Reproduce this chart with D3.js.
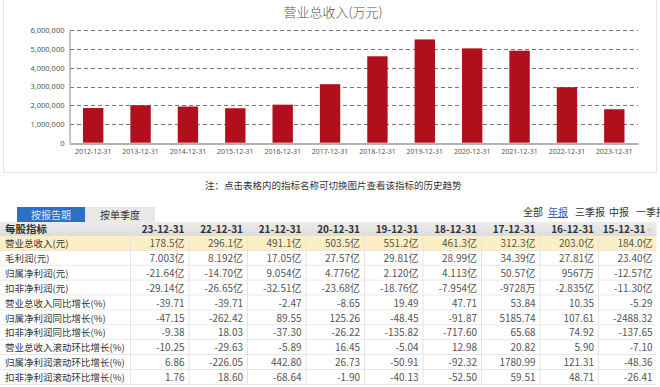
<!DOCTYPE html>
<html>
<head>
<meta charset="utf-8">
<script src="https://cdn.jsdelivr.net/npm/d3@7"></script>
<style>
  body { margin: 0; background: #fff; }
  svg { display: block; font-family: "Noto Sans CJK SC", "Noto Sans", sans-serif; }
</style>
</head>
<body>
<svg id="chart" width="660" height="387"></svg>
<script>
// chart data (万元)
const years = ['2012-12-31', '2013-12-31', '2014-12-31', '2015-12-31', '2016-12-31', '2017-12-31',
    '2018-12-31', '2019-12-31', '2020-12-31', '2021-12-31', '2022-12-31', '2023-12-31'];
const revenue = [1850000, 2000000, 1930000, 1840000, 2030000, 3123000,
    4613000, 5512000, 5035000, 4911000, 2961000, 1785000];
const yTicks = [0, 1000000, 2000000, 3000000, 4000000, 5000000, 6000000];

// table data
const periods = ['23-12-31', '22-12-31', '21-12-31', '20-12-31', '19-12-31', '18-12-31', '17-12-31', '16-12-31', '15-12-31'];
const rowLabels = ['营业总收入(元)', '毛利润(元)', '归属净利润(元)', '扣非净利润(元)', '营业总收入同比增长(%)',
    '归属净利润同比增长(%)', '扣非净利润同比增长(%)', '营业总收入滚动环比增长(%)', '归属净利润滚动环比增长(%)', '扣非净利润滚动环比增长(%)'];
const tableValues = [
    ['178.5亿', '296.1亿', '491.1亿', '503.5亿', '551.2亿', '461.3亿', '312.3亿', '203.0亿', '184.0亿'],
    ['7.003亿', '8.192亿', '17.05亿', '27.57亿', '29.81亿', '28.99亿', '34.39亿', '27.81亿', '23.40亿'],
    ['-21.64亿', '-14.70亿', '9.054亿', '4.776亿', '2.120亿', '4.113亿', '50.57亿', '9567万', '-12.57亿'],
    ['-29.14亿', '-26.65亿', '-32.51亿', '-23.68亿', '-18.76亿', '-7.954亿', '-9728万', '-2.835亿', '-11.30亿'],
    ['-39.71', '-39.71', '-2.47', '-8.65', '19.49', '47.71', '53.84', '10.35', '-5.29'],
    ['-47.15', '-262.42', '89.55', '125.26', '-48.45', '-91.87', '5185.74', '107.61', '-2488.32'],
    ['-9.38', '18.03', '-37.30', '-26.22', '-135.82', '-717.60', '65.68', '74.92', '-137.65'],
    ['-10.25', '-29.63', '-5.89', '16.45', '-5.04', '12.98', '20.82', '5.90', '-7.10'],
    ['6.86', '-226.05', '442.80', '26.73', '-50.91', '-92.32', '1780.99', '121.31', '-48.36'],
    ['1.76', '18.60', '-68.64', '-1.90', '-40.13', '-52.50', '59.51', '48.71', '-26.41']
];
const reportTypes = ['全部', '年报', '三季报', '中报', '一季报'];

const svg = d3.select('#chart');

// ---- bar chart ----
svg.append('rect')
    .attr('x', 3.5).attr('y', -1)
    .attr('width', 653).attr('height', 173.5)
    .attr('fill', 'none')
    .attr('stroke', '#e6e6e6');

svg.append('text')
    .attr('x', 333).attr('y', 16.5)
    .attr('text-anchor', 'middle')
    .attr('font-size', 13)
    .attr('font-weight', 300)
    .attr('fill', '#555')
    .text('营业总收入(万元)');

const x = d3.scaleBand()
    .domain(years)
    .range([69.5, 638])
    .paddingInner(0.57)
    .paddingOuter(0.285);

const y = d3.scaleLinear()
    .domain([0, 6000000])
    .range([142.7, 30.3]);

// grid lines
svg.append('g')
    .selectAll('line')
    .data(yTicks.slice(1))
    .enter()
    .append('line')
    .attr('x1', 70).attr('x2', 638)
    .attr('y1', (d) => Math.round(y(d)) + 0.5)
    .attr('y2', (d) => Math.round(y(d)) + 0.5)
    .attr('stroke', '#777')
    .attr('stroke-dasharray', '4,3');

svg.append('g')
    .selectAll('rect')
    .data(revenue)
    .enter()
    .append('rect')
    .attr('x', (d, i) => x(years[i]))
    .attr('y', (d) => y(d))
    .attr('width', x.bandwidth())
    .attr('height', (d) => y(0) - y(d))
    .attr('fill', '#b10f1c');

// y axis
const yAxis = svg.append('g')
    .attr('transform', 'translate(69.5,0)')
    .call(d3.axisLeft(y).tickValues(yTicks).tickSize(0).tickPadding(5).tickFormat(d3.format(',')));
yAxis.select('.domain').attr('stroke', '#888');
yAxis.selectAll('text').attr('font-size', 7.5).attr('fill', '#555').attr('font-family', '"Noto Sans", sans-serif');

// x axis
const xAxis = svg.append('g')
    .attr('transform', `translate(0,${Math.round(y(0)) + 0.5})`)
    .call(d3.axisBottom(x).tickSize(0).tickPadding(6));
xAxis.select('.domain').attr('stroke', '#999').attr('stroke-width', 1.5);
xAxis.selectAll('text').attr('font-size', 7).attr('fill', '#555').attr('font-family', '"Noto Sans", sans-serif');

// ---- note & tabs ----
svg.append('text')
    .attr('x', 205).attr('y', 189)
    .attr('font-size', 9.5)
    .attr('fill', '#333')
    .text('注：点击表格内的指标名称可切换图片查看该指标的历史趋势');

svg.append('rect').attr('x', 17).attr('y', 207).attr('width', 68).attr('height', 15).attr('fill', '#2e6fc6');
svg.append('text').attr('x', 51).attr('y', 218.5).attr('text-anchor', 'middle')
    .attr('font-size', 10).attr('fill', '#dbe8fa').text('按报告期');
svg.append('rect').attr('x', 85).attr('y', 207).attr('width', 70).attr('height', 15).attr('fill', '#e8e8e8');
svg.append('text').attr('x', 120).attr('y', 218.5).attr('text-anchor', 'middle')
    .attr('font-size', 10).attr('fill', '#333').text('按单季度');

const typeX = [523, 548, 575, 609, 636];
svg.append('g')
    .selectAll('text')
    .data(reportTypes)
    .enter()
    .append('text')
    .attr('x', (d, i) => typeX[i])
    .attr('y', 216)
    .attr('font-size', 10)
    .attr('fill', (d, i) => i === 1 ? '#2a62b8' : '#333')
    .attr('text-decoration', (d, i) => i === 1 ? 'underline' : null)
    .text((d) => d);

// ---- table ----
const labelW = 130;
const colW = 58.5;
const headTop = 222;
const headH = 14;
const rowH = 14.9;
const tableRight = labelW + colW * periods.length;

const grad = svg.append('defs').append('linearGradient')
    .attr('id', 'headGrad').attr('x1', 0).attr('x2', 0).attr('y1', 0).attr('y2', 1);
grad.append('stop').attr('offset', '0%').attr('stop-color', '#ececec');
grad.append('stop').attr('offset', '100%').attr('stop-color', '#dcdcdc');

svg.append('rect')
    .attr('x', 0).attr('y', headTop)
    .attr('width', tableRight).attr('height', headH)
    .attr('fill', 'url(#headGrad)');

svg.append('text')
    .attr('x', 5).attr('y', headTop + 11)
    .attr('font-size', 10.5).attr('font-weight', 'bold').attr('fill', '#333')
    .text('每股指标');

svg.append('g')
    .selectAll('text')
    .data(periods)
    .enter()
    .append('text')
    .attr('x', (d, i) => labelW + colW * (i + 1) - (i === periods.length - 1 ? 11 : 4))
    .attr('y', headTop + 11)
    .attr('text-anchor', 'end')
    .attr('font-size', 10).attr('font-weight', 'bold').attr('fill', '#333')
    .text((d) => d);

svg.append('text')
    .attr('x', tableRight - 9).attr('y', headTop + 10)
    .attr('font-size', 8).attr('fill', '#c4c4c4')
    .text('»');

const rows = svg.append('g')
    .selectAll('g')
    .data(rowLabels)
    .enter()
    .append('g')
    .attr('transform', (d, i) => `translate(0,${headTop + headH + i * rowH})`);

rows.append('rect')
    .attr('width', tableRight).attr('height', rowH)
    .attr('fill', (d, i) => i === 0 ? '#fdefc4' : '#fff');

rows.append('line')
    .attr('x1', 0).attr('x2', tableRight)
    .attr('y1', rowH - 0.5).attr('y2', rowH - 0.5)
    .attr('stroke', '#e4e4e4');

rows.append('text')
    .attr('x', 5).attr('y', 11)
    .attr('font-size', 9.5).attr('fill', '#333')
    .text((d) => d);

rows.selectAll('.val')
    .data((d, i) => tableValues[i])
    .enter()
    .append('text')
    .attr('class', 'val')
    .attr('x', (d, j) => labelW + colW * (j + 1) - 4)
    .attr('y', 11)
    .attr('text-anchor', 'end')
    .attr('font-size', 10).attr('fill', '#555')
    .text((d) => d);

// column separators
svg.append('g')
    .selectAll('line')
    .data(d3.range(periods.length))
    .enter()
    .append('line')
    .attr('x1', (i) => labelW + colW * i + 0.5)
    .attr('x2', (i) => labelW + colW * i + 0.5)
    .attr('y1', headTop + headH)
    .attr('y2', headTop + headH + rowH * rowLabels.length)
    .attr('stroke', '#e4e4e4');
</script>
</body>
</html>
